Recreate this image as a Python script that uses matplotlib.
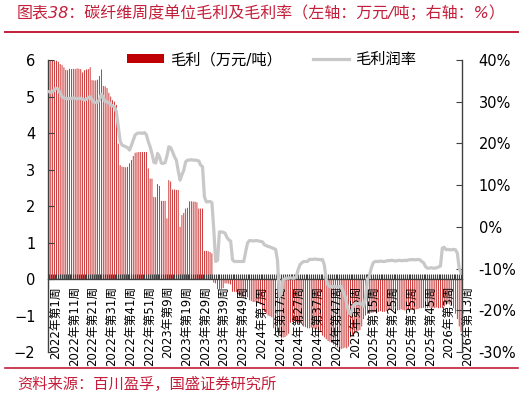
import matplotlib
matplotlib.use('Agg')
import matplotlib.pyplot as plt
from matplotlib.lines import Line2D
import numpy as np

plt.rcParams['font.family'] = ['DejaVu Sans', 'Noto Sans CJK SC']

# weekly labels: 2022-2025 have 52 weeks, 2026 up to week 13
years = [2022, 2023, 2024, 2025, 2026]
weeks_in_year = [52, 52, 52, 52, 13]

# gross margin, 10k yuan / ton (left axis)
margin_2022 = [6.00, 6.00, 6.00, 5.98, 5.98, 5.95, 5.89, 5.86, 5.80, 5.73,
               5.72, 5.76, 5.75, 5.76, 5.75, 5.77, 5.76, 5.75, 5.66, 5.72,
               5.74, 5.75, 5.80, 5.45, 5.44, 5.44, 5.46, 5.56, 5.74, 5.29,
               5.28, 5.23, 5.10, 5.00, 4.90, 4.86, 4.77, 3.71, 3.12, 3.08,
               3.07, 3.06, 3.07, 3.17, 3.26, 3.37, 3.46, 3.47, 3.48, 3.48,
               3.48, 3.48]
margin_2023 = [3.48, 3.03, 2.75, 2.75, 2.25, 2.24, 2.60, 2.55,
               2.14, 2.14, 2.14, 1.66, 2.71, 2.67, 2.45, 2.45, 2.44, 2.44,
               1.43, 1.75, 1.81, 1.93, 1.95, 2.13, 2.13, 2.12, 2.12, 2.10,
               1.93, 1.93, 1.93, 0.77, 0.77, 0.76, 0.74, 0.70, -0.10, -0.12,
               -0.28, -0.28, -0.27, -0.25, -0.12, -0.12, -0.13, -0.15, -0.35, -0.35,
               -0.36, -0.38, -0.45, -0.50]
margin_2024 = [-0.52, -0.55, -0.50, -0.58, -0.60, -0.63, -0.63, -0.64, -0.65, -0.70,
               -0.85, -0.90, -0.95, -1.00, -1.02, -1.05, -1.35, -1.40, -1.45, -1.50,
               -1.58, -1.60, -1.59, -1.55, -1.50, -1.20, -1.18, -1.15, -1.17, -1.20,
               -1.20, -1.22, -1.30, -1.32, -1.35, -1.35, -1.33, -1.35, -1.36, -1.38,
               -1.40, -1.45, -1.55, -1.60, -1.65, -1.70, -1.72, -1.75, -1.80, -1.85,
               -1.88, -1.90]
margin_2025 = [-1.92, -1.90, -1.88, -1.90, -1.85, -1.60, -1.55, -1.50, -1.45, -1.42,
               -1.40, -1.30, -1.10, -1.00, -0.95, -0.95, -0.93, -0.92, -0.90, -0.92,
               -0.90, -0.88, -0.90, -0.90, -0.88, -0.86, -0.85, -0.87, -0.85, -0.84,
               -0.86, -0.85, -0.83, -0.85, -0.86, -0.84, -0.85, -0.83, -0.84, -0.85,
               -0.83, -0.82, -0.80, -0.80, -0.79, -0.81, -0.80, -0.78, -0.80, -0.79,
               -0.80, -0.78]
margin_2026 = [-0.80, -0.79, -0.80, -0.75, -0.70, -0.68, -0.70, -0.72, -0.80, -0.95,
               -1.10, -1.30, -1.45]

# gross margin rate, % (right axis)
rate_2022 = [32.4, 32.3, 32.4, 33.0, 33.2, 33.0, 32.0, 31.2, 30.9, 30.8,
             30.7, 30.8, 30.8, 30.9, 30.8, 30.7, 30.8, 30.8, 30.6, 30.4,
             30.6, 31.0, 31.2, 30.5, 29.9, 29.8, 29.9, 30.5, 31.8, 31.0,
             30.0, 30.0, 29.8, 29.2, 29.0, 28.8, 27.6, 24.0, 20.6, 19.6,
             19.4, 19.2, 19.0, 18.4, 19.5, 20.8, 22.0, 22.4, 22.5, 22.5,
             22.4, 22.6]
rate_2023 = [22.1, 20.5, 19.2, 17.6, 15.5, 15.3, 17.6, 16.8,
             15.3, 15.2, 15.4, 17.0, 19.2, 19.0, 18.0, 16.8, 16.0, 13.5,
             11.2, 12.5, 13.6, 15.6, 16.0, 16.0, 16.1, 16.0, 16.0, 15.9,
             15.8, 14.8, 14.4, 7.2, 6.0, 6.0, 6.1, 5.8, -0.7, -8.3,
             -8.0, -1.2, -1.2, -1.3, -1.5, -2.5, -3.1, -3.4, -7.9, -8.3,
             -8.3, -8.3, -8.3, -8.3]
rate_2024 = [-8.3, -6.0, -3.9, -3.3, -3.3, -3.4, -3.3, -3.3, -3.4, -3.5,
             -3.6, -4.3, -4.5, -4.7, -4.8, -5.0, -5.2, -5.4, -8.0, -16.7,
             -16.0, -12.7, -12.4, -12.3, -12.3, -12.2, -12.3, -12.3, -12.0, -10.3,
             -9.1, -8.6, -8.3, -8.3, -8.3, -7.8, -7.8, -7.8, -7.7, -7.8,
             -7.8, -7.9, -7.8, -9.1, -12.7, -14.0, -14.3, -14.3, -14.3, -14.3,
             -14.4, -14.3]
rate_2025 = [-14.3, -15.5, -16.5, -18.5, -20.5, -21.0, -19.5, -18.5, -18.3, -18.5,
             -18.3, -18.5, -19.0, -17.0, -12.5, -11.9, -10.0, -8.7, -8.3, -8.3,
             -8.3, -8.2, -8.3, -8.3, -8.2, -8.1, -8.1, -8.0, -8.1, -8.2,
             -8.1, -8.0, -8.1, -8.1, -8.0, -8.1, -7.9, -7.9, -7.8, -7.9,
             -7.9, -7.8, -7.9, -8.3, -8.6, -9.5, -9.9, -9.9, -9.8, -9.9,
             -9.9, -9.8]
rate_2026 = [-9.6, -9.4, -5.1, -4.9, -5.5, -5.4, -5.5, -5.5, -5.4, -5.5,
             -6.3, -9.9, -11.1]

margin = margin_2022 + margin_2023 + margin_2024 + margin_2025 + margin_2026
rate = rate_2022 + rate_2023 + rate_2024 + rate_2025 + rate_2026
labels = [f'{y}年第{w}周' for y, nw in zip(years, weeks_in_year) for w in range(1, nw + 1)]

red = '#C00000'
dark = '#404040'
txt_red = '#C41E3A'

fig = plt.figure(figsize=(5.26, 4.03), dpi=100)
ax = fig.add_axes([48 / 526, 1 - 352 / 403, (462 - 48) / 526, 292 / 403])
ax2 = ax.twinx()

x = np.arange(len(margin))
bars = ax.bar(x, margin, width=0.4, color=red, linewidth=0, snap=False,
              label='毛利（万元/吨）')
line, = ax2.plot(x, rate, color='#C8C8C8', lw=2.3, label='毛利润率')

ax.set_xlim(-0.5, len(x) - 0.5)
ax.set_ylim(-2, 6)
ax2.set_ylim(-30, 40)

ax.spines['bottom'].set_position(('data', 0))
for s in ['top', 'right']:
    ax.spines[s].set_visible(False)
for s in ['top', 'bottom', 'left']:
    ax2.spines[s].set_visible(False)
for sp in [ax.spines['left'], ax.spines['bottom'], ax2.spines['right']]:
    sp.set_color(dark)
    sp.set_linewidth(1.0)

ax.set_xticks(x[::10])
ax.set_xticklabels(labels[::10], rotation=90, ha='left', va='top', fontsize=8.5)
ax.set_xticks(x, minor=True)
ax.tick_params(axis='x', which='both', direction='in', length=3.5, width=0.8,
               color=dark, pad=5)

ax.set_yticks(range(-2, 7))
ax.tick_params(axis='y', direction='in', length=4, color=dark, pad=9, labelsize=10.5)
ax2.set_yticks(range(-30, 41, 10))
ax2.set_yticklabels([f'{v}%' for v in range(-30, 41, 10)])
ax2.tick_params(axis='y', direction='in', length=4, color=dark, pad=12, labelsize=10.5)

fig.legend([bars, line], ['毛利（万元/吨）', '毛利润率'], loc='center',
           bbox_to_anchor=(0.517, 0.852), ncol=2, frameon=False, fontsize=11,
           handlelength=2.4, handleheight=0.5, columnspacing=2.0, handletextpad=0.4)

fig.text(0.032, 0.967, '图表38：碳纤维周度单位毛利及毛利率（左轴：万元/吨；右轴：%）',
         color=txt_red, fontsize=11.5, style='italic', va='center', ha='left')
fig.add_artist(Line2D([0.01, 0.985], [0.921, 0.921], transform=fig.transFigure,
                      color=txt_red, lw=1.4))
fig.add_artist(Line2D([0.01, 0.985], [0.087, 0.087], transform=fig.transFigure,
                      color=txt_red, lw=1.2))
fig.text(0.032, 0.045, '资料来源：百川盈孚，国盛证券研究所',
         color=txt_red, fontsize=11, style='italic', va='center', ha='left')

fig.savefig('out.png', dpi=100)
